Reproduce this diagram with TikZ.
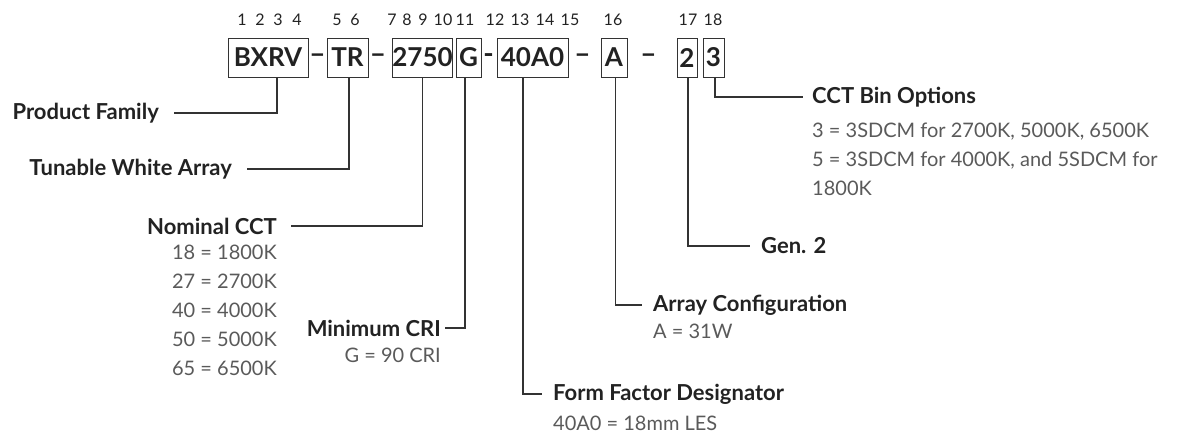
\documentclass[tikz,border=0pt]{standalone}
\usepackage{fontspec}
\setmainfont{Lato}
\usepackage{tikz}
\usetikzlibrary{positioning,calc}

\definecolor{ink}{HTML}{222222}
\definecolor{soft}{HTML}{5A5A5A}
\definecolor{rule}{HTML}{333333}

\begin{document}
\begin{tikzpicture}[
    x=1pt, y=-1pt,
    box/.style={draw=rule, line width=1pt, inner sep=0pt, text=ink,
                font=\fontsize{26}{30}\selectfont\bfseries, minimum height=39pt},
    sep/.style={text=ink, inner sep=0pt, font=\fontsize{28}{30}\selectfont\bfseries},
    num/.style={text=ink, inner sep=0pt, font=\fontsize{16}{18}\selectfont},
    lab/.style={text=ink, inner sep=0pt, font=\fontsize{22}{26}\selectfont\bfseries},
    val/.style={text=soft, inner sep=0pt, font=\fontsize{20}{29}\selectfont},
    lead/.style={draw=rule, line width=1.1pt},
  ]
  \useasboundingbox (0,0) rectangle (1177,434);

  % ===================== POSITION NUMBERS =====================
  \foreach \n/\x in {1/242, 2/260, 3/278, 4/297, 5/337, 6/355,
                     7/392, 8/407, 9/423, 10/443, 11/465,
                     12/495, 13/520, 14/545, 15/570, 16/613, 17/688, 18/713}
    \node[num] (n\n) at (\x, 20) {\n};

  % ======================== CODE BOXES ========================
  \node[box, minimum width=80pt] (b1) at (268, 57.5) {BXRV};
  \node[box, minimum width=41pt] (b2) at (347.5, 57.5) {TR};
  \node[box, minimum width=59pt] (b3) at (422.5, 57.5) {2750};
  \node[box, minimum width=25pt] (b4) at (468.5, 57.5) {G};
  \node[box, minimum width=71pt] (b5) at (532.5, 57.5) {40A0};
  \node[box, minimum width=26pt] (b6) at (614, 57.5) {A};
  \node[box, minimum width=20pt] (b7) at (687, 57.5) {2};
  \node[box, minimum width=21pt] (b8) at (713.5, 57.5) {3};

  % separators
  \node[sep] (s1) at (317.5, 59) {--};
  \node[sep] (s2) at (378, 59) {--};
  \node[sep] (s3) at (488.5, 59) {-};
  \node[sep] (s4) at (582.5, 59) {--};
  \node[sep] (s5) at (648.5, 59) {--};

  % ========================= LEFT SIDE ========================
  \node[lab, anchor=east] (pf) at (159, 113) {Product Family};
  \node[lab, anchor=east] (tw) at (232, 169) {Tunable White Array};
  \node[lab, anchor=east] (nc) at (277, 226) {Nominal CCT};
  \node[val, anchor=north east, align=right] (ncv) at (277, 245) {%
    18 = 1800K\\27 = 2700K\\40 = 4000K\\50 = 5000K\\65 = 6500K};
  \node[lab, anchor=east] (mc) at (441, 328) {Minimum CRI};
  \node[val, anchor=east] (mcv) at (441, 355) {G = 90 CRI};

  % ======================== RIGHT SIDE ========================
  \node[lab, anchor=west] (cb) at (812, 97) {CCT Bin Options};
  \node[val, anchor=north west, align=left] (cbv) at (812, 123) {%
    3 = 3SDCM for 2700K, 5000K, 6500K\\
    5 = 3SDCM for 4000K, and 5SDCM for\\
    1800K};
  \node[lab, anchor=west] (gen) at (761, 246) {Gen. 2};
  \node[lab, anchor=west] (ac) at (653, 305) {Array Configuration};
  \node[val, anchor=west] (acv) at (653, 331) {A = 31W};
  \node[lab, anchor=west] (ff) at (553, 394) {Form Factor Designator};
  \node[val, anchor=west] (ffv) at (553, 423) {40A0 = 18mm LES};

  % ========================= LEADERS ==========================
  \draw[lead] ([xshift=9]b1.south) |- ([xshift=15]pf.east);
  \draw[lead] ([xshift=1.5]b2.south) |- ([xshift=15]tw.east);
  \draw[lead] (b3.south) |- ([xshift=14]nc.east);
  \draw[lead] ([xshift=-3.5]b4.south) |- ([xshift=4]mc.east);
  \draw[lead] ([xshift=-9.5]b5.south) |- ([xshift=-11]ff.west);
  \draw[lead] ([xshift=1.5]b6.south) |- ([xshift=-11]ac.west);
  \draw[lead] ([xshift=1]b7.south) |- ([xshift=-11]gen.west);
  \draw[lead] ([xshift=1.5]b8.south) |- ([xshift=-9]cb.west);
\end{tikzpicture}
\end{document}
